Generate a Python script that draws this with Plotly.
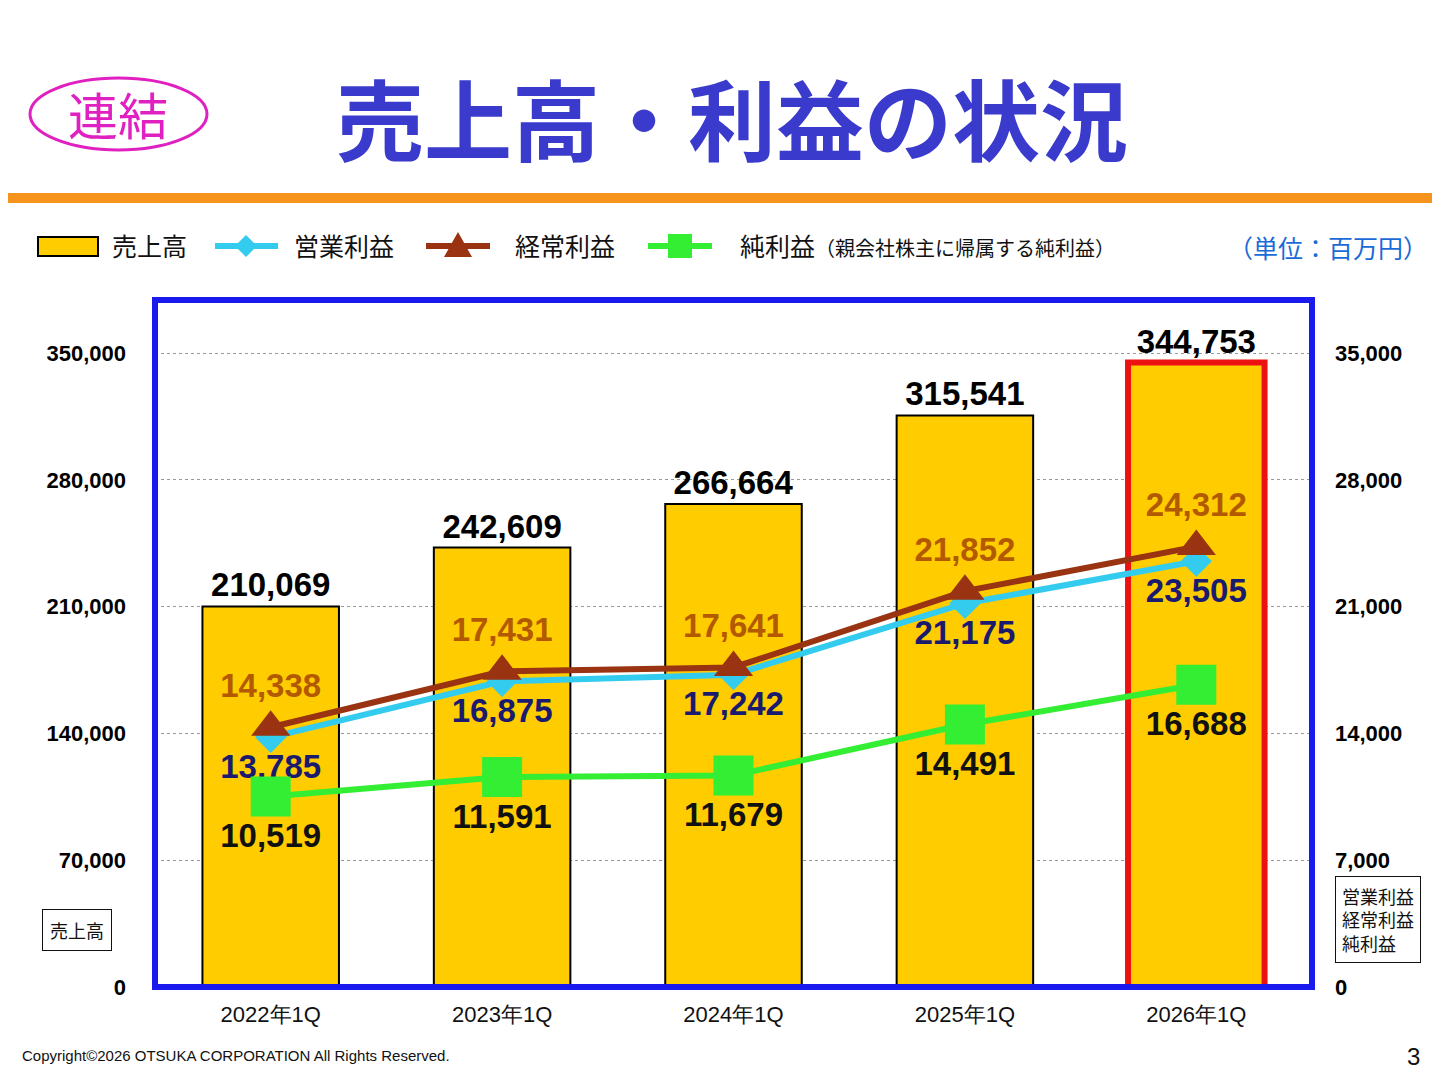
import plotly.graph_objects as go

categories = ["2022年1Q", "2023年1Q", "2024年1Q", "2025年1Q", "2026年1Q"]
sales = [210069, 242609, 266664, 315541, 344753]
op_profit = [13785, 16875, 17242, 21175, 23505]
ord_profit = [14338, 17431, 17641, 21852, 24312]
net_profit = [10519, 11591, 11679, 14491, 16688]
left_ticks = [0, 70000, 140000, 210000, 280000, 350000]
right_ticks = [0, 7000, 14000, 21000, 28000, 35000]

F = "Noto Sans CJK JP"
fmt = lambda v: f"{v:,}"
OFF = 8  # page body offset
L, R, T, B = 155 - OFF, 1312 - OFF, 300 - OFF, 987 - OFF
px = lambda x: (x - OFF - L) / (R - L)
py = lambda y: (B - (y - OFF)) / (B - T)

fig = go.Figure()
fig.add_trace(go.Bar(
    x=categories, y=sales, name="売上高", width=0.59,
    marker=dict(color="#ffcc00", line=dict(color=["#000"]*4 + ["#ee1111"], width=[2]*4 + [6])),
    text=[fmt(v) for v in sales], textposition="outside", cliponaxis=False,
    textfont=dict(family="Arial", size=33, color="#000", weight="bold"),
))
fig.add_trace(go.Scatter(
    x=categories, y=op_profit, yaxis="y2", name="営業利益", mode="lines+markers+text",
    line=dict(color="#33ccee", width=6), marker=dict(symbol="diamond", size=24, color="#33ccee"),
    text=[fmt(v) for v in op_profit], textposition="bottom center",
    textfont=dict(family="Arial", size=33, color="#1a1a6e", weight="bold"),
))
fig.add_trace(go.Scatter(
    x=categories, y=ord_profit, yaxis="y2", name="経常利益", mode="lines+markers+text",
    line=dict(color="#993311", width=6), marker=dict(symbol="triangle-up", size=34, color="#993311"),
    text=[fmt(v) for v in ord_profit], textposition="top center",
    textfont=dict(family="Arial", size=33, color="#b35a00", weight="bold"),
))
fig.add_trace(go.Scatter(
    x=categories, y=net_profit, yaxis="y2", name="純利益", mode="lines+markers+text",
    line=dict(color="#33ee33", width=6), marker=dict(symbol="square", size=40, color="#33ee33"),
    text=[fmt(v) for v in net_profit], textposition="bottom center",
    textfont=dict(family="Arial", size=33, color="#111", weight="bold"),
))

shapes = [
    dict(type="rect", xref="paper", yref="paper", x0=0, x1=1, y0=0, y1=1,
         line=dict(color="#1a1aee", width=6)),
    dict(type="rect", xref="paper", yref="paper", x0=px(0), x1=px(1440), y0=py(193), y1=py(203),
         fillcolor="#f7941d", line=dict(width=0)),
    dict(type="circle", xref="paper", yref="paper", x0=px(30), x1=px(207), y0=py(78), y1=py(150),
         line=dict(color="#e020c0", width=3)),
    dict(type="rect", xref="paper", yref="paper", x0=px(38), x1=px(98), y0=py(237), y1=py(256),
         fillcolor="#ffcc00", line=dict(color="#000", width=2)),
]
for x0, x1, col in [(215, 278, "#33ccee"), (426, 490, "#993311"), (648, 712, "#33ee33")]:
    shapes.append(dict(type="line", xref="paper", yref="paper", x0=px(x0), x1=px(x1),
                       y0=py(246), y1=py(246), line=dict(color=col, width=6)))
def path(pts):
    return "M " + " L ".join(f"{px(a)},{py(b)}" for a, b in pts) + " Z"
shapes.append(dict(type="path", xref="paper", yref="paper", path=path([(246, 235), (257, 246), (246, 257), (235, 246)]),
                   fillcolor="#33ccee", line=dict(width=0)))
shapes.append(dict(type="path", xref="paper", yref="paper", path=path([(458, 232), (472, 257), (444, 257)]),
                   fillcolor="#993311", line=dict(width=0)))
shapes.append(dict(type="rect", xref="paper", yref="paper", x0=px(668), x1=px(692), y0=py(234), y1=py(258),
                   fillcolor="#33ee33", line=dict(width=0)))

def ann(text, x, y, size, color="#111", anchor="left", family=F, **kw):
    return dict(text=text, xref="paper", yref="paper", x=px(x), y=py(y), showarrow=False,
                xanchor=anchor, yanchor="middle", font=dict(family=family, size=size, color=color), **kw)

annotations = [
    ann("<b>売上高・利益の状況</b>", 732, 115, 88, "#3a3acc", "center"),
    ann("連結", 118, 113, 50, "#e020c0", "center"),
    ann("売上高", 110, 245, 25),
    ann("営業利益", 292, 245, 25),
    ann("経常利益", 513, 245, 25),
    ann("純利益<span style='font-size:20px'>（親会社株主に帰属する純利益）</span>", 738, 245, 25),
    ann("（単位：百万円）", 1430, 247, 25, "#1a6ad8", "right"),
    ann("売上高", 77, 930, 18, anchor="center", bordercolor="#111", borderwidth=1, borderpad=7, bgcolor="white"),
    ann("<span style='line-height:0.9'>営業利益<br>経常利益<br>純利益　</span>", 1378, 919, 18, anchor="center", align="left",
        bordercolor="#111", borderwidth=1, borderpad=6, bgcolor="white"),
    ann("Copyright©2026 OTSUKA CORPORATION All Rights Reserved.", 20, 1055, 15, family="Arial"),
    ann("3", 1422, 1056, 24, family="Arial", anchor="right"),
]

fig.update_layout(
    width=1440, height=1080, paper_bgcolor="white", plot_bgcolor="white",
    margin=dict(l=L, r=1440 - R, t=T, b=1080 - B),
    showlegend=False,
    xaxis=dict(tickfont=dict(family="Arial", size=22, color="#111"), showgrid=False,
               ticks="", showline=False, automargin=False, ticklabelstandoff=12),
    yaxis=dict(range=[0, 379260], tickvals=left_ticks, ticktext=[fmt(v) for v in left_ticks],
               tickfont=dict(family="Arial", size=22, color="#000", weight="bold"),
               showgrid=True, gridcolor="#999", griddash="dot", gridwidth=1, zeroline=False,
               ticklabelstandoff=28, automargin=False),
    yaxis2=dict(range=[0, 37926], tickvals=right_ticks, ticktext=[fmt(v) for v in right_ticks],
                overlaying="y", side="right", showgrid=False, zeroline=False,
                tickfont=dict(family="Arial", size=22, color="#000", weight="bold"),
                ticklabelstandoff=22, automargin=False),
    shapes=shapes, annotations=annotations,
)
fig.write_html("out.html")
